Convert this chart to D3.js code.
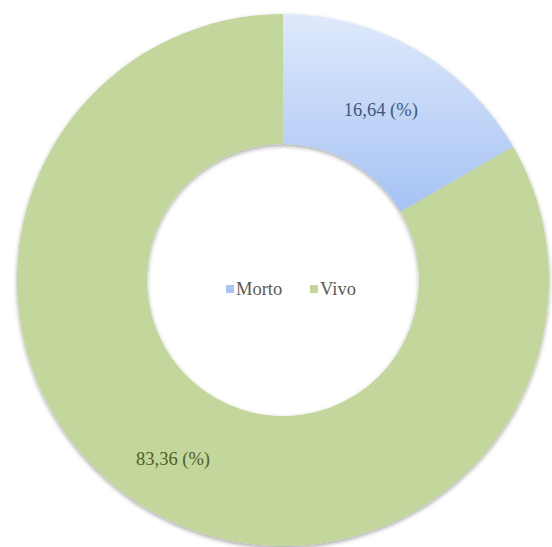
<!DOCTYPE html>
<html>
<head>
<meta charset="utf-8">
<script src="https://cdn.jsdelivr.net/npm/d3@7"></script>
<style>
  html, body { margin: 0; padding: 0; background: #fff; }
  #chart { position: relative; width: 552px; height: 547px; overflow: hidden; }
  svg { display: block; position: absolute; left: 0; top: 0; }
  .lbl {
    position: absolute;
    font-family: "Liberation Serif", "Times New Roman", serif;
    font-size: 18.5px;
    line-height: 1;
    white-space: nowrap;
  }
</style>
</head>
<body>
<div id="chart"></div>
<script>
'use strict'

// data
var categories = ['Morto', 'Vivo']
var values = [16.64, 83.36]
var labels = ['16,64 (%)', '83,36 (%)']

var width = 552
var height = 547
var cx = 283
var cy = 280
var outerR = 266
var innerR = 136
var baselineShift = 15.5 // top of a line-height:1 box to the baseline, 18.5px serif

var chart = d3.select('#chart')

var svg = chart.append('svg')
  .attr('width', width)
  .attr('height', height)

var defs = svg.append('defs')

// gradient coordinates are relative to the donut centre
var grad = defs.append('linearGradient')
  .attr('id', 'blueGrad')
  .attr('gradientUnits', 'userSpaceOnUse')
  .attr('x1', 0).attr('y1', -outerR)
  .attr('x2', 0).attr('y2', -60)
grad.append('stop').attr('offset', '0%').attr('stop-color', '#dfe9fb')
grad.append('stop').attr('offset', '100%').attr('stop-color', '#a3c1f4')

var shadow = defs.append('filter')
  .attr('id', 'shadow')
  .attr('x', '-10%').attr('y', '-10%')
  .attr('width', '120%').attr('height', '120%')
shadow.append('feDropShadow')
  .attr('dx', 0).attr('dy', 2)
  .attr('stdDeviation', 2)
  .attr('flood-color', '#000')
  .attr('flood-opacity', 0.35)

var color = d3.scaleOrdinal()
  .domain(categories)
  .range(['url(#blueGrad)', '#c3d69b'])

var labelColor = d3.scaleOrdinal()
  .domain(categories)
  .range(['#3d5a7e', '#4f6228'])

var legendColor = d3.scaleOrdinal()
  .domain(categories)
  .range(['#a9c4f2', '#c3d69b'])

var pie = d3.pie().sort(null).value(function (d) { return d.value })
var arcs = pie(categories.map(function (c, i) {
  return { name: c, value: values[i], label: labels[i] }
}))

var arc = d3.arc().innerRadius(innerR).outerRadius(outerR)

var g = svg.append('g')
  .attr('transform', 'translate(' + cx + ',' + cy + ')')

g.append('g')
  .attr('filter', 'url(#shadow)')
  .selectAll('path')
  .data(arcs)
  .enter().append('path')
  .attr('d', arc)
  .attr('fill', function (d) { return color(d.data.name) })

// label positions: small slice label on its centroid, big one placed low-left like the original
var labelArc = d3.arc().innerRadius(196).outerRadius(196)
var labelPos = [
  function (d) { var c = labelArc.centroid(d); return [c[0], c[1] + 6] },
  function (d) { return [-110, 185] }
]

// text as html on top of the svg (serif font)
chart.selectAll('div.value')
  .data(arcs)
  .enter().append('div')
  .attr('class', 'lbl value')
  .style('left', function (d, i) { return (cx + labelPos[i](d)[0]) + 'px' })
  .style('top', function (d, i) { return (cy + labelPos[i](d)[1] - baselineShift) + 'px' })
  .style('transform', 'translateX(-50%)')
  .style('color', function (d) { return labelColor(d.data.name) })
  .text(function (d) { return d.data.label })

// legend in the hole
var legendX = d3.scalePoint()
  .domain(categories)
  .range([226, 310])

svg.selectAll('rect.legend')
  .data(categories)
  .enter().append('rect')
  .attr('class', 'legend')
  .attr('x', function (d) { return legendX(d) })
  .attr('y', 285)
  .attr('width', 8)
  .attr('height', 8)
  .attr('fill', function (d) { return legendColor(d) })

chart.selectAll('div.legend')
  .data(categories)
  .enter().append('div')
  .attr('class', 'lbl legend')
  .style('left', function (d) { return (legendX(d) + 10) + 'px' })
  .style('top', (295 - baselineShift) + 'px')
  .style('color', '#595959')
  .text(function (d) { return d })
</script>
</body>
</html>
